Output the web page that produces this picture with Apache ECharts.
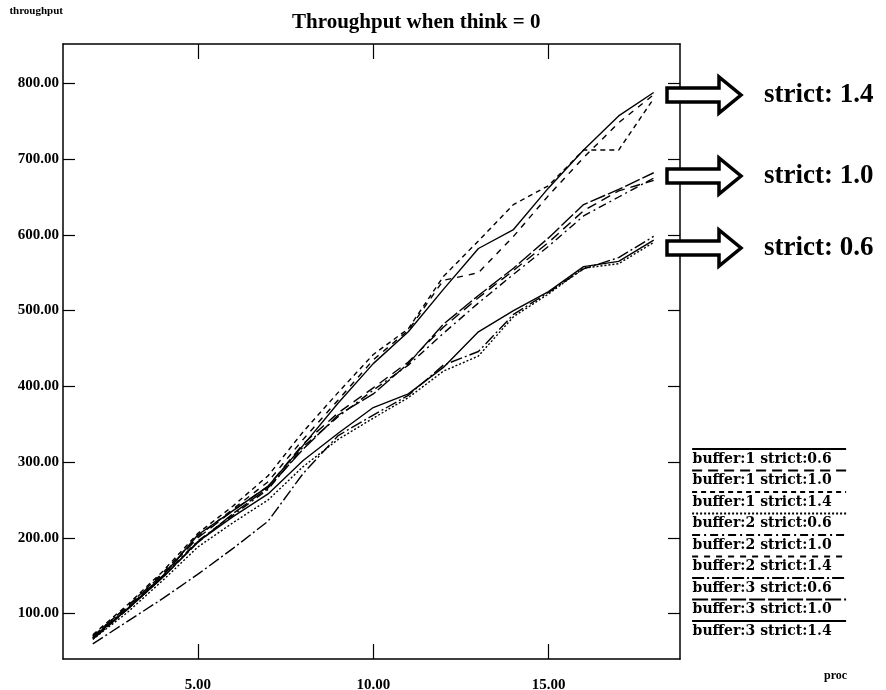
<!DOCTYPE html>
<html><head><meta charset="utf-8">
<script src="https://cdn.jsdelivr.net/npm/echarts@6/dist/echarts.min.js"></script>
<style>html,body{margin:0;padding:0;background:#fff}#c{width:886px;height:690px}</style>
</head><body><div id="c"></div>
<script>
// ---- data ----
const procs = [2,3,4,5,6,7,8,9,10,11,12,13,14,15,16,17,18];
const b1s06 = [68,106,148,195,228,258,302,338,372,390,425,472,500,525,558,565,593];
const b1s10 = [70,110,152,200,236,268,324,365,398,432,478,517,553,590,632,658,672];
const b1s14 = [72,112,156,206,242,282,340,392,442,476,545,592,640,665,712,712,780];
const b2s06 = [66,102,144,188,220,250,294,330,358,385,420,440,492,522,556,562,590];
const b2s10 = [68,108,150,196,230,264,320,360,395,428,470,510,548,585,625,650,675];
const b2s14 = [70,110,154,202,238,274,330,382,435,474,540,550,598,652,702,748,785];
const b3s06 = [60,90,120,152,186,222,285,335,362,388,428,446,495,524,555,570,598];
const b3s10 = [66,106,148,194,232,266,317,362,390,430,482,520,556,596,640,660,682];
const b3s14 = [68,107,150,204,236,268,322,378,430,472,528,582,607,662,712,757,788];
const seriesNames = ['buffer:1 strict:0.6','buffer:1 strict:1.0','buffer:1 strict:1.4',
  'buffer:2 strict:0.6','buffer:2 strict:1.0','buffer:2 strict:1.4',
  'buffer:3 strict:0.6','buffer:3 strict:1.0','buffer:3 strict:1.4'];
const seriesValues = [b1s06,b1s10,b1s14,b2s06,b2s10,b2s14,b3s06,b3s10,b3s14];
const yTicks = [100,200,300,400,500,600,700,800];
const xTicks = [5,10,15];
const annotations = ['strict: 1.4','strict: 1.0','strict: 0.6'];
const titleText = 'Throughput when think = 0';

// ---- styling ----
const FONT = '"Liberation Serif", "DejaVu Serif", serif';
const LFONT = '"DejaVu Serif", "Liberation Serif", serif';
const dashes = ['solid',[10,6],[5,4],[2,2],[8,4,2,4],[6,6],[12,3,2,3],[16,3],'solid'];
const X_MIN = 1.15, X_MAX = 18.75, Y_MIN = 40, Y_MAX = 852;

const chart = echarts.init(document.getElementById('c'), null, {renderer:'canvas'});

const axisLine = {show:true, lineStyle:{color:'#000', width:1.5}};
const series = seriesNames.map((n,i)=>({
  name:n, type:'line', symbol:'none', showSymbol:false, silent:true, color:'#000',
  xAxisIndex:0, yAxisIndex:0,
  lineStyle:{color:'#000', width:1.4, type:dashes[i]},
  data: procs.map((x,j)=>[x, seriesValues[i][j]])
}));

function arrow(l, cy){
  return {type:'polygon', z:50,
    shape:{points:[[l,cy-7],[l+52,cy-7],[l+52,cy-18],[l+74,cy],[l+52,cy+18],[l+52,cy+7],[l,cy+7]]},
    style:{fill:'#fff', stroke:'#000', lineWidth:3.5, lineJoin:'miter'}};
}
const arrowY = [95,176,248];
const graphics = [];
arrowY.forEach((cy,i)=>{
  graphics.push(arrow(667,cy));
  graphics.push({type:'text', z:50, x:764, y:cy,
    style:{text:annotations[i], font:'bold 27px ' + FONT, fill:'#000', verticalAlign:'middle'}});
});

chart.setOption({
  animation:false,
  backgroundColor:'#fff',
  title:{text:titleText, left:287, top:7,
    textStyle:{fontFamily:FONT, fontWeight:'bold', fontSize:21, color:'#000'}},
  grid:{left:63, right:206, top:44, bottom:31, containLabel:false, outerBoundsMode:'none'},
  legend:[
    {data:seriesNames, orient:'vertical', left:686, top:437, itemWidth:154, itemHeight:14, itemGap:7.5,
      selectedMode:false, textStyle:{fontFamily:LFONT, fontSize:14, lineHeight:14, color:'transparent'},
      itemStyle:{color:'transparent', borderColor:'transparent', borderWidth:0, opacity:0},
      lineStyle:{width:2.2, color:'#000'}},
    {data:seriesNames, orient:'vertical', left:677, top:447, itemWidth:0, itemHeight:14, itemGap:7.5,
      selectedMode:false, lineStyle:{color:'transparent', width:0, opacity:0},
      itemStyle:{color:'transparent', borderColor:'transparent', opacity:0},
      textStyle:{fontFamily:LFONT, fontWeight:'bold', fontSize:14, lineHeight:14, color:'#000'}}
  ],
  xAxis:[
    {type:'value', min:X_MIN, max:X_MAX, position:'bottom', axisLine,
      axisTick:{show:true, inside:true, length:15, customValues:xTicks, lineStyle:{color:'#000', width:1.2}},
      axisLabel:{show:true, customValues:xTicks, formatter:v=>Number(v).toFixed(2), margin:19,
        fontFamily:FONT, fontWeight:'bold', fontSize:15, color:'#000'},
      splitLine:{show:false},
      name:'proc', nameLocation:'end', nameGap:144,
      nameTextStyle:{fontFamily:FONT, fontWeight:'bold', fontSize:12, color:'#000',
        verticalAlign:'top', padding:[11,0,0,0]}},
    {type:'value', min:X_MIN, max:X_MAX, position:'top', axisLine,
      axisTick:{show:true, inside:true, length:15, customValues:xTicks, lineStyle:{color:'#000', width:1.2}},
      axisLabel:{show:false}, splitLine:{show:false}}
  ],
  yAxis:[
    {type:'value', min:Y_MIN, max:Y_MAX, position:'left', axisLine,
      axisTick:{show:true, inside:true, length:12, customValues:yTicks, lineStyle:{color:'#000', width:1.2}},
      axisLabel:{show:true, customValues:yTicks, formatter:v=>Number(v).toFixed(2), margin:4,
        fontFamily:FONT, fontWeight:'bold', fontSize:15, color:'#000'},
      splitLine:{show:false},
      name:'throughput', nameLocation:'end', nameGap:27,
      nameTextStyle:{fontFamily:FONT, fontWeight:'bold', fontSize:11, color:'#000', align:'right'}},
    {type:'value', min:Y_MIN, max:Y_MAX, position:'right', axisLine,
      axisTick:{show:true, inside:true, length:12, customValues:yTicks, lineStyle:{color:'#000', width:1.2}},
      axisLabel:{show:false}, splitLine:{show:false}}
  ],
  series,
  graphic:graphics
});
</script></body></html>
